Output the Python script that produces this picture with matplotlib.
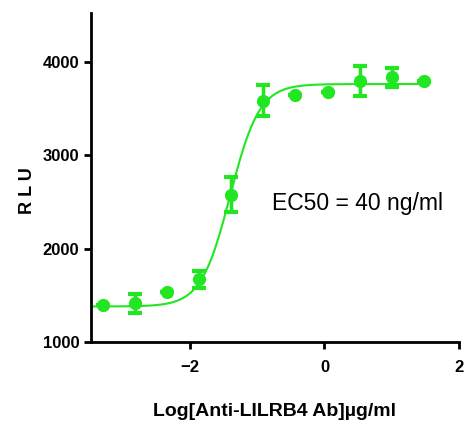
import numpy as np
import matplotlib
matplotlib.use('Agg')
import matplotlib.pyplot as plt

plt.rcParams['font.family'] = ['Liberation Sans', 'DejaVu Sans']

# 3-fold dilution series, log10 of concentration in ug/ml
log_conc = [-3.294, -2.817, -2.340, -1.862, -1.385, -0.908, -0.431, 0.046, 0.523, 1.0, 1.477]
rlu_mean = [1395, 1413, 1530, 1669, 2576, 3583, 3643, 3671, 3789, 3831, 3796]
rlu_err = [0, 105, 0, 95, 185, 170, 0, 0, 160, 105, 0]

# four-parameter logistic fit
bottom = 1380
top = 3760
log_ec50 = -1.40
hill = 2.0

green = '#22e622'

fig = plt.figure(figsize=(4.7, 4.34), dpi=100)
ax = fig.add_axes([0.1936, 0.212, 0.783, 0.758])

xf = np.linspace(-3.47, 1.5, 300)
yf = bottom + (top - bottom) / (1 + 10 ** ((log_ec50 - xf) * hill))
ax.plot(xf, yf, color=green, linewidth=1.5)
ax.errorbar(log_conc, rlu_mean, yerr=rlu_err, fmt='o', color=green,
            markersize=8.5, elinewidth=2.5, capsize=5, capthick=3)

ax.set_xlim(-3.47, 2.0)
ax.set_ylim(1000, 4520)
ax.set_xticks([-2, 0, 2])
ax.set_yticks([1000, 2000, 3000, 4000])
for s in ['top', 'right']:
    ax.spines[s].set_visible(False)
for s in ['left', 'bottom']:
    ax.spines[s].set_linewidth(2)
ax.tick_params(width=2, length=5, labelsize=12)
ax.tick_params(axis='x', pad=8)
for lab in ax.get_xticklabels() + ax.get_yticklabels():
    lab.set_fontweight('bold')

ax.set_xlabel('Log[Anti-LILRB4 Ab]\u00b5g/ml', fontsize=14, fontweight='bold')
ax.xaxis.set_label_coords(0.5, -0.185)
ax.set_ylabel('R L U', fontsize=13, fontweight='bold')
ax.yaxis.set_label_coords(-0.15, 0.46)
ax.text(-0.78, 2480, 'EC50 = 40 ng/ml', fontsize=16.5, va='center')

fig.savefig('out.png', dpi=100)
